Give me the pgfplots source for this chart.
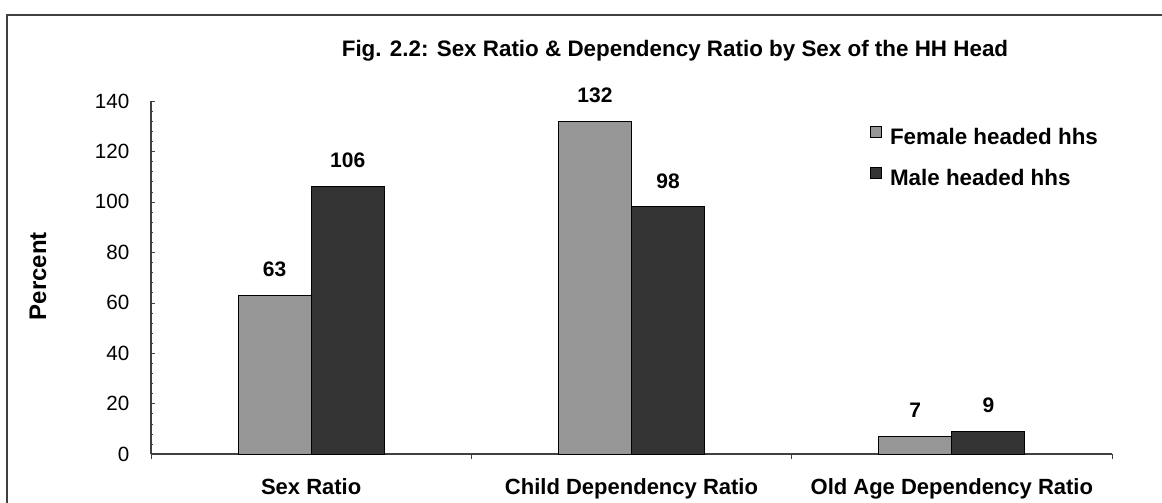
\documentclass[border=0pt]{standalone}
\usepackage{pgfplots}
\pgfplotsset{compat=1.18}
\usepackage{fontspec}
\setmainfont{Liberation Sans}
\definecolor{fem}{HTML}{969696}
\definecolor{mal}{HTML}{333333}
\definecolor{axc}{HTML}{404040}
\begin{document}
\begin{tikzpicture}
\useasboundingbox (0pt,0pt) rectangle (581pt,-251.5pt);
\draw[line width=1pt, axc] (3.5pt,-251.5pt) -- (3.5pt,-7.5pt) -- (581pt,-7.5pt);
\node[font=\bfseries\fontsize{11.2}{13}\selectfont] at (337.5pt,-25.5pt) {Fig. 2.2: Sex Ratio \& Dependency Ratio by Sex of the HH Head};
\begin{axis}[
  at={(75.5pt,-227pt)}, anchor=south west,
  scale only axis, width=480.5pt, height=176.5pt,
  xmin=-0.5, xmax=2.5, ymin=0, ymax=140,
  axis x line*=bottom, axis y line*=left,
  axis line style={axc, line width=0.6pt},
  xtick pos=bottom, ytick pos=left,
  ybar=0pt, bar width=0.228,
  xtick={0,1,2},
  xticklabels={Sex Ratio, Child Dependency Ratio, Old Age Dependency Ratio},
  xtick style={draw=none},
  extra x ticks={-0.5,0.5,1.5,2.5},
  extra x tick labels={},
  extra x tick style={xtick style={draw=axc}, tick align=outside, major tick length=2.5pt},
  ytick={0,20,...,140},
  minor y tick num=4,
  tick align=inside,
  major tick length=2pt, minor tick length=1pt,
  ytick style={draw=axc},
  /pgf/number format/assume math mode=true,
  yticklabel style={font=\fontsize{10.3}{12}\selectfont, anchor=east, xshift=-7.3pt},
  xticklabel style={font=\bfseries\fontsize{11}{13}\selectfont, anchor=base, yshift=-20.25pt},
  ylabel={Percent},
  every axis y label/.style={at={(axis description cs:-0.1176,0.504)}, rotate=90, anchor=center, font=\bfseries\fontsize{12}{14}\selectfont},
  nodes near coords,
  every node near coord/.append style={anchor=center, yshift=13pt, font=\bfseries\fontsize{10.5}{12}\selectfont, text=black},
  legend style={at={(axis description cs:0.748,0.9306)}, anchor=north west, draw=none, fill=none, inner sep=0pt,
     font=\bfseries\fontsize{11.2}{13}\selectfont, row sep=11pt, column sep=4pt,
     nodes={inner sep=0pt, text height=7.5pt, text depth=0pt}},
  legend cell align=left,
  legend image code/.code={\draw[#1, draw=black, line width=0.4pt] (0pt,0pt) rectangle (5.5pt,5.5pt);},
]
\addplot[fill=fem, draw=black, line width=0.5pt] coordinates {(0,63) (1,132) (2,7)};
\addplot[fill=mal, draw=black, line width=0.5pt] coordinates {(0,106) (1,98) (2,9)};
\legend{Female headed hhs, Male headed hhs}
\end{axis}
\end{tikzpicture}
\end{document}
